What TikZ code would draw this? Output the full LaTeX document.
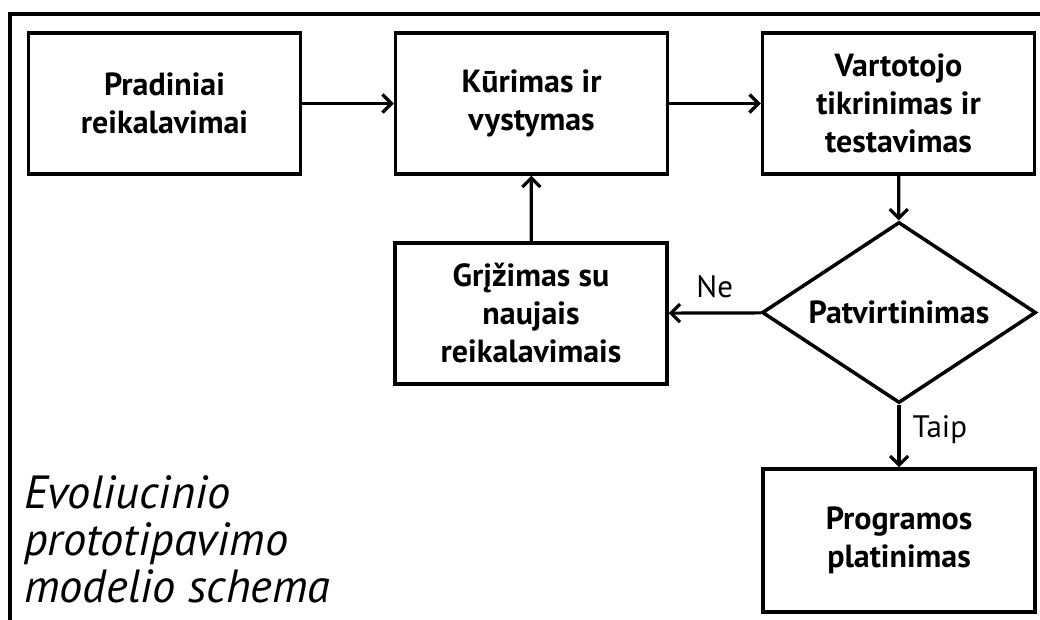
\documentclass[tikz,border=0pt]{standalone}
\usepackage{fontspec}
\setmainfont{PT Sans}
\usetikzlibrary{arrows.meta,shapes.geometric}
\newcommand\boxfont{\bfseries\fontsize{32}{38}\selectfont}
\newcommand\lblfont{\fontsize{31}{34}\selectfont}
\newcommand\titlefont{\itshape\fontsize{46.5}{47}\selectfont}
\begin{document}
\begin{tikzpicture}[x=1pt,y=-1pt,
  box/.style={draw, line width=3.5pt, minimum width=272pt, minimum height=141pt, inner sep=0pt, align=center, font=\boxfont},
  decision/.style={draw, shape=diamond, line width=3.5pt, minimum width=274pt, minimum height=181pt, inner sep=0pt, aspect=1.51, font=\boxfont},
  arr/.style={line width=3.2pt, -{Straight Barb[length=9pt,width=18pt]}},
  lbl/.style={inner sep=0pt, font=\lblfont},
  frame/.style={line width=4pt}
]
\useasboundingbox (0,0) rectangle (1040,619);
\coordinate (fbl) at (10,640);
\coordinate (ftl) at (10,14);
\coordinate (ftr) at (1060,14);
\draw[frame] (fbl) -- (ftl) -- (ftr);

\node[box] (b1) at (164.5,103.5) {Pradiniai\\reikalavimai};
\node[box] (b2) at (531.5,103.5) {Kūrimas ir\\vystymas};
\node[box] (b3) at (898.5,103.5) {Vartotojo\\tikrinimas ir\\testavimas};
\node[decision] (d) at (899,312.5) {Patvirtinimas};
\node[box] (b4) at (531,313.5) {Grįžimas su\\naujais\\reikalavimais};
\node[box, minimum height=143pt] (b5) at (899,540.5) {Programos\\platinimas};

\draw[arr] (b1) -- (b2);
\draw[arr] (b2) -- (b3);
\draw[arr] (b3) -- (d);
\draw[arr] (d) -- node[lbl, above=14pt] {Ne} (b4);
\draw[arr] (d) -- node[lbl, pos=0.4, anchor=west, xshift=12pt] {Taip} (b5);
\draw[arr] (b4) -- (b2);

\node[anchor=base west, inner sep=0pt, align=left, font=\titlefont] (title) at (24,602) {Evoliucinio\\prototipavimo\\modelio schema};
\end{tikzpicture}
\end{document}
